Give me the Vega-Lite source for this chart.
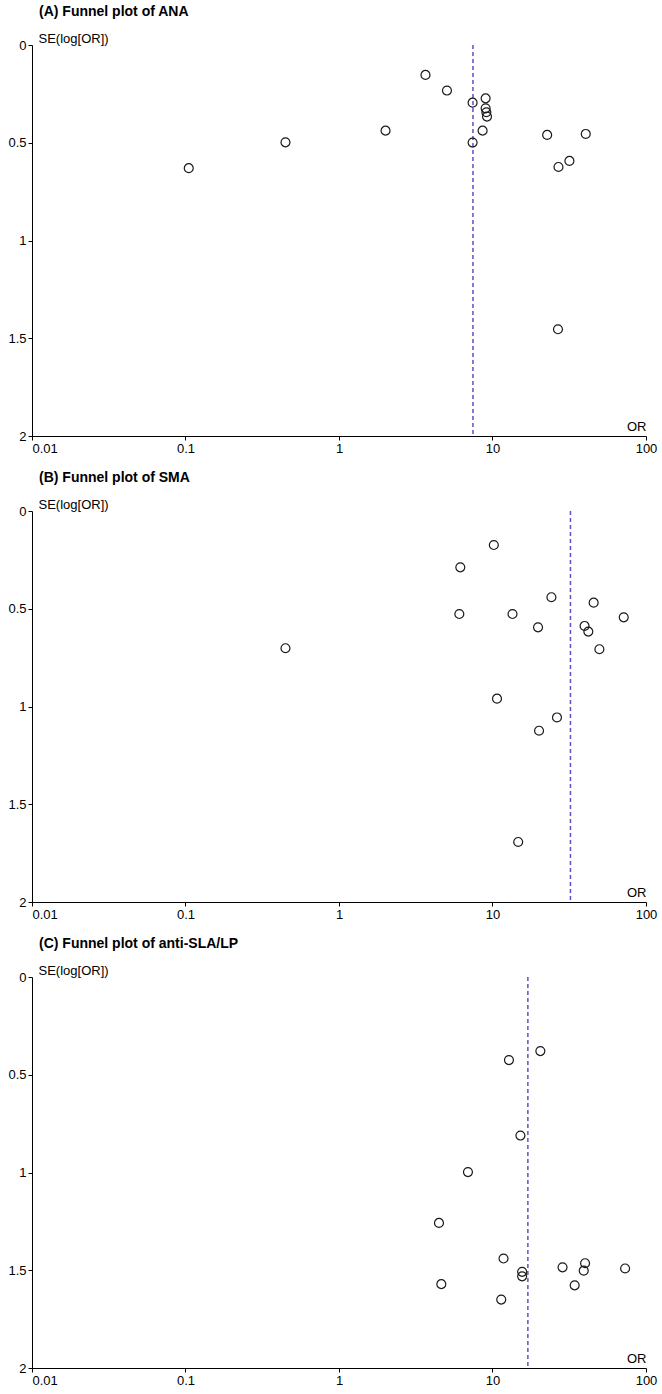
{
  "$schema": "https://vega.github.io/schema/vega-lite/v6.json",
  "background": "white",
  "padding": {"left": 7, "top": 5, "right": 5, "bottom": 5},
  "spacing": 16,
  "config": {
    "view": {"stroke": null},
    "font": "Liberation Sans",
    "axis": {
      "grid": false,
      "domainColor": "#000",
      "domainWidth": 1,
      "tickColor": "#000",
      "tickWidth": 1,
      "tickSize": 4,
      "labelColor": "#000",
      "labelFont": "Liberation Sans",
      "labelFontSize": 13,
      "labelPadding": 2,
      "titleColor": "#000",
      "titleFont": "Liberation Sans",
      "titleFontSize": 13,
      "titleFontWeight": "normal"
    },
    "title": {"font": "Liberation Sans", "fontSize": 14, "fontWeight": "bold", "anchor": "start", "frame": "group", "color": "#000", "dx": 7, "offset": 13}
  },
  "datasets": {
    "points": [
      {"panel": "A", "OR": 3.66, "SE": 0.153},
      {"panel": "A", "OR": 5.05, "SE": 0.233},
      {"panel": "A", "OR": 7.42, "SE": 0.295},
      {"panel": "A", "OR": 9.02, "SE": 0.273},
      {"panel": "A", "OR": 9.02, "SE": 0.324},
      {"panel": "A", "OR": 9.12, "SE": 0.344},
      {"panel": "A", "OR": 9.21, "SE": 0.366},
      {"panel": "A", "OR": 8.62, "SE": 0.438},
      {"panel": "A", "OR": 7.42, "SE": 0.499},
      {"panel": "A", "OR": 2.01, "SE": 0.438},
      {"panel": "A", "OR": 22.7, "SE": 0.46},
      {"panel": "A", "OR": 40.5, "SE": 0.455},
      {"panel": "A", "OR": 31.7, "SE": 0.593},
      {"panel": "A", "OR": 26.9, "SE": 0.624},
      {"panel": "A", "OR": 0.448, "SE": 0.498},
      {"panel": "A", "OR": 0.105, "SE": 0.63},
      {"panel": "A", "OR": 26.7, "SE": 1.454},
      {"panel": "B", "OR": 10.2, "SE": 0.174},
      {"panel": "B", "OR": 6.17, "SE": 0.288},
      {"panel": "B", "OR": 24.2, "SE": 0.441},
      {"panel": "B", "OR": 45.6, "SE": 0.469},
      {"panel": "B", "OR": 6.08, "SE": 0.527},
      {"panel": "B", "OR": 13.5, "SE": 0.527},
      {"panel": "B", "OR": 19.8, "SE": 0.595},
      {"panel": "B", "OR": 71.6, "SE": 0.544},
      {"panel": "B", "OR": 39.8, "SE": 0.588},
      {"panel": "B", "OR": 42.1, "SE": 0.617},
      {"panel": "B", "OR": 49.7, "SE": 0.707},
      {"panel": "B", "OR": 10.7, "SE": 0.96},
      {"panel": "B", "OR": 26.3, "SE": 1.056},
      {"panel": "B", "OR": 20.1, "SE": 1.124},
      {"panel": "B", "OR": 0.448, "SE": 0.702},
      {"panel": "B", "OR": 14.7, "SE": 1.693},
      {"panel": "C", "OR": 20.5, "SE": 0.379},
      {"panel": "C", "OR": 12.8, "SE": 0.425},
      {"panel": "C", "OR": 15.2, "SE": 0.811},
      {"panel": "C", "OR": 6.92, "SE": 0.998},
      {"panel": "C", "OR": 4.48, "SE": 1.258},
      {"panel": "C", "OR": 11.8, "SE": 1.44},
      {"panel": "C", "OR": 15.6, "SE": 1.508},
      {"panel": "C", "OR": 15.6, "SE": 1.531},
      {"panel": "C", "OR": 28.6, "SE": 1.485},
      {"panel": "C", "OR": 40.1, "SE": 1.464},
      {"panel": "C", "OR": 39.3, "SE": 1.502},
      {"panel": "C", "OR": 73.1, "SE": 1.491},
      {"panel": "C", "OR": 4.64, "SE": 1.571},
      {"panel": "C", "OR": 34.3, "SE": 1.577},
      {"panel": "C", "OR": 11.4, "SE": 1.65}
    ],
    "pooled": [
      {"panel": "A", "OR": 7.46},
      {"panel": "B", "OR": 32.2},
      {"panel": "C", "OR": 17.0}
    ]
  },
  "vconcat": [
    {
      "title": {"text": "(A) Funnel plot of ANA"},
      "width": 614,
      "height": 391,
      "layer": [
        {
          "data": {"name": "pooled"},
          "transform": [{"filter": "datum.panel == 'A'"}],
          "mark": {"type": "rule", "color": "#5a52c8", "strokeDash": [4, 3], "strokeWidth": 1.5},
          "encoding": {"x": {"field": "OR", "type": "quantitative", "scale": {"type": "log", "domain": [0.01, 100]}}}
        },
        {
          "data": {"name": "points"},
          "transform": [{"filter": "datum.panel == 'A'"}],
          "mark": {"type": "point", "shape": "circle", "filled": false, "size": 80, "strokeWidth": 1.2, "color": "#1a1a1a", "opacity": 1},
          "encoding": {
            "x": {"field": "OR", "type": "quantitative", "scale": {"type": "log", "domain": [0.01, 100]},
              "axis": {"values": [0.01, 0.1, 1, 10, 100], "format": "~g", "title": "OR", "titleX": 614, "titleY": -3, "titleAlign": "right", "titleBaseline": "bottom", "titleAngle": 0,
                "labelAlign": {"condition": {"test": "datum.value <= 0.01", "value": "left"}, "value": "center"}}},
            "y": {"field": "SE", "type": "quantitative", "scale": {"domain": [0, 2], "reverse": true},
              "axis": {"values": [0, 0.5, 1, 1.5, 2], "format": "~g", "title": "SE(log[OR])", "titleAngle": 0, "titleX": 6, "titleY": -7, "titleAlign": "left", "titleBaseline": "middle"}}
          }
        }
      ]
    },
    {
      "title": {"text": "(B) Funnel plot of SMA"},
      "width": 614,
      "height": 391,
      "layer": [
        {
          "data": {"name": "pooled"},
          "transform": [{"filter": "datum.panel == 'B'"}],
          "mark": {"type": "rule", "color": "#5a52c8", "strokeDash": [4, 3], "strokeWidth": 1.5},
          "encoding": {"x": {"field": "OR", "type": "quantitative", "scale": {"type": "log", "domain": [0.01, 100]}}}
        },
        {
          "data": {"name": "points"},
          "transform": [{"filter": "datum.panel == 'B'"}],
          "mark": {"type": "point", "shape": "circle", "filled": false, "size": 80, "strokeWidth": 1.2, "color": "#1a1a1a", "opacity": 1},
          "encoding": {
            "x": {"field": "OR", "type": "quantitative", "scale": {"type": "log", "domain": [0.01, 100]},
              "axis": {"values": [0.01, 0.1, 1, 10, 100], "format": "~g", "title": "OR", "titleX": 614, "titleY": -3, "titleAlign": "right", "titleBaseline": "bottom", "titleAngle": 0,
                "labelAlign": {"condition": {"test": "datum.value <= 0.01", "value": "left"}, "value": "center"}}},
            "y": {"field": "SE", "type": "quantitative", "scale": {"domain": [0, 2], "reverse": true},
              "axis": {"values": [0, 0.5, 1, 1.5, 2], "format": "~g", "title": "SE(log[OR])", "titleAngle": 0, "titleX": 6, "titleY": -7, "titleAlign": "left", "titleBaseline": "middle"}}
          }
        }
      ]
    },
    {
      "title": {"text": "(C) Funnel plot of anti-SLA/LP"},
      "width": 614,
      "height": 391,
      "layer": [
        {
          "data": {"name": "pooled"},
          "transform": [{"filter": "datum.panel == 'C'"}],
          "mark": {"type": "rule", "color": "#5a52c8", "strokeDash": [4, 3], "strokeWidth": 1.5},
          "encoding": {"x": {"field": "OR", "type": "quantitative", "scale": {"type": "log", "domain": [0.01, 100]}}}
        },
        {
          "data": {"name": "points"},
          "transform": [{"filter": "datum.panel == 'C'"}],
          "mark": {"type": "point", "shape": "circle", "filled": false, "size": 80, "strokeWidth": 1.2, "color": "#1a1a1a", "opacity": 1},
          "encoding": {
            "x": {"field": "OR", "type": "quantitative", "scale": {"type": "log", "domain": [0.01, 100]},
              "axis": {"values": [0.01, 0.1, 1, 10, 100], "format": "~g", "title": "OR", "titleX": 614, "titleY": -3, "titleAlign": "right", "titleBaseline": "bottom", "titleAngle": 0,
                "labelAlign": {"condition": {"test": "datum.value <= 0.01", "value": "left"}, "value": "center"}}},
            "y": {"field": "SE", "type": "quantitative", "scale": {"domain": [0, 2], "reverse": true},
              "axis": {"values": [0, 0.5, 1, 1.5, 2], "format": "~g", "title": "SE(log[OR])", "titleAngle": 0, "titleX": 6, "titleY": -7, "titleAlign": "left", "titleBaseline": "middle"}}
          }
        }
      ]
    }
  ]
}
